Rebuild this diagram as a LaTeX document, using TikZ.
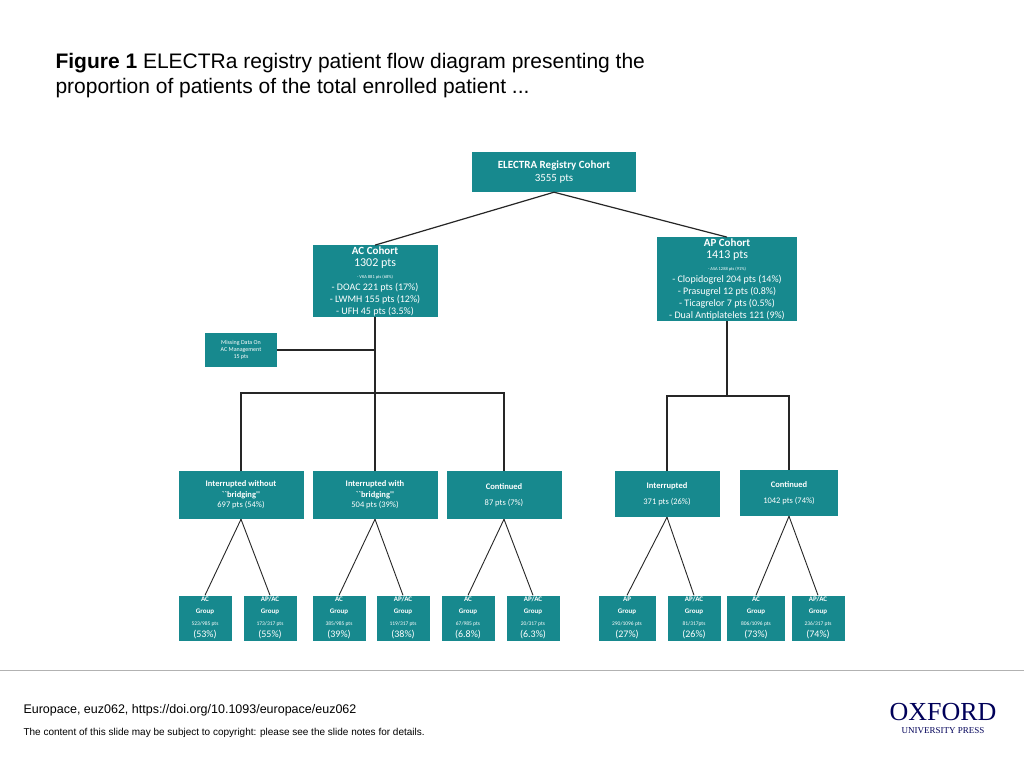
\documentclass[tikz,border=0pt]{standalone}
\usepackage{fontspec}
\setmainfont{Liberation Sans}
\newfontfamily\boxf{Carlito}
\newfontfamily\oxf{Liberation Serif}
\definecolor{teal1}{HTML}{17898E}
\newcommand\fsA{\fontsize{7}{8.5}\selectfont}
\newcommand\fsB{\fontsize{5.5}{7}\selectfont}
\begin{document}
\begin{tikzpicture}[x=1pt,y=-1pt,
 bx/.style={fill=teal1,text=white,align=center,inner sep=1pt,font=\boxf},
 ln/.style={draw=black!85,line width=1.2pt}]
\useasboundingbox (0,0) rectangle (1024,768);
\fill[white] (0,0) rectangle (1024,768);
\node[anchor=west,font=\fontsize{21}{25}\selectfont,align=left] (t) at (52,76) {\textbf{Figure 1} ELECTRa registry patient flow diagram presenting the\\proportion of patients of the total enrolled patient ...};
% level 0
\node[bx,minimum width=164,minimum height=40,font=\boxf\fontsize{11}{13}\selectfont] (e) at (554,172) {\textbf{ELECTRA Registry Cohort}\\3555 pts};
\node[bx,minimum width=125,minimum height=64] (ac) at (375,281) {\fontsize{11}{12}\selectfont\textbf{AC Cohort}\\\fontsize{12}{13}\selectfont 1302 pts\\\fontsize{4.5}{5.5}\selectfont - VKA 881 pts (68\%)\\- DOAC 221 pts (17\%)\\- LWMH 155 pts (12\%)\\- UFH 45 pts (3.5\%)};
\node[bx,minimum width=140,minimum height=72] (ap) at (727,279) {\fontsize{11}{12}\selectfont\textbf{AP Cohort}\\\fontsize{12}{13}\selectfont 1413 pts\\\fontsize{4.5}{5.5}\selectfont - ASA 1288 pts (91\%)\\- Clopidogrel 204 pts (14\%)\\- Prasugrel 12 pts (0.8\%)\\- Ticagrelor 7 pts (0.5\%)\\- Dual Antiplatelets 121 (9\%)};
\node[bx,minimum width=72,minimum height=34,font=\boxf\fontsize{6}{7}\selectfont] (m) at (241,350) {Missing Data On\\AC Management\\15 pts};
% level 2
\tikzset{md/.style={bx,minimum height=48,font=\boxf\fontsize{8.5}{10.5}\selectfont}}
\node[md,minimum width=125] (i1) at (241,495) {\textbf{Interrupted without}\\\textbf{``bridging''}\\697 pts (54\%)};
\node[md,minimum width=125] (i2) at (375,495) {\textbf{Interrupted with}\\\textbf{``bridging''}\\504 pts (39\%)};
\node[md,minimum width=115] (c1) at (504,495) {\textbf{Continued}\\[6pt]87 pts (7\%)};
\node[md,minimum width=105,minimum height=46] (i3) at (667,494) {\textbf{Interrupted}\\[6pt]371 pts (26\%)};
\node[md,minimum width=98,minimum height=46] (c2) at (789,493) {\textbf{Continued}\\[6pt]1042 pts (74\%)};
% level 3
\tikzset{lf/.style={bx,minimum width=53,minimum height=45,font=\boxf}}
\node[lf] (g1) at (205,618) {\fsA\textbf{AC}\\\fsA\textbf{Group}\\\fsB 523/985 pts\\(53\%)};
\node[lf] (g2) at (270,618) {\fsA\textbf{AP/AC}\\\fsA\textbf{Group}\\\fsB 173/317 pts\\(55\%)};
\node[lf] (g3) at (339,618) {\fsA\textbf{AC}\\\fsA\textbf{Group}\\\fsB 385/985 pts\\(39\%)};
\node[lf] (g4) at (403,618) {\fsA\textbf{AP/AC}\\\fsA\textbf{Group}\\\fsB 119/317 pts\\(38\%)};
\node[lf] (g5) at (468,618) {\fsA\textbf{AC}\\\fsA\textbf{Group}\\\fsB 67/985 pts\\(6.8\%)};
\node[lf] (g6) at (533,618) {\fsA\textbf{AP/AC}\\\fsA\textbf{Group}\\\fsB 20/317 pts\\(6.3\%)};
\node[lf,minimum width=57] (g7) at (627,618) {\fsA\textbf{AP}\\\fsA\textbf{Group}\\\fsB 290/1096 pts\\(27\%)};
\node[lf] (g8) at (694,618) {\fsA\textbf{AP/AC}\\\fsA\textbf{Group}\\\fsB 81/317pts\\(26\%)};
\node[lf,minimum width=58] (g9) at (756,618) {\fsA\textbf{AC}\\\fsA\textbf{Group}\\\fsB 806/1096 pts\\(73\%)};
\node[lf] (g10) at (818,618) {\fsA\textbf{AP/AC}\\\fsA\textbf{Group}\\\fsB 236/317 pts\\(74\%)};
% connectors
\draw[ln] (e.south) -- (ac.north);
\draw[ln] (e.south) -- (ap.north);
\coordinate (acb) at (375,393);
\coordinate (apb) at (727,396);
\draw[ln] (ac.south) -- (acb);
\draw[ln] (m.east) -- (m.east -| ac.south);
\draw[ln] (i1.north) |- (acb) -| (c1.north);
\draw[ln] (acb) -- (i2.north);
\draw[ln] (ap.south) -- (apb);
\draw[ln] (i3.north) |- (apb) -| (c2.north);
\foreach \p/\a/\b in {i1/g1/g2,i2/g3/g4,c1/g5/g6,i3/g7/g8,c2/g9/g10}{
 \draw[ln,line width=0.9pt] (\p.south) -- (\a.north);
 \draw[ln,line width=0.9pt] (\p.south) -- (\b.north);}
% footer
\draw[black!30,line width=0.8pt] (0,670) -- (1024,670);
\node[anchor=west,font=\fontsize{12.5}{15}\selectfont] (f1) at (20,710) {Europace, euz062, https://doi.org/10.1093/europace/euz062};
\node[anchor=west,font=\fontsize{10}{12}\selectfont] (f2) at (20,733) {The content of this slide may be subject to copyright: please see the slide notes for details.};
\node[font=\oxf\fontsize{26}{28}\selectfont,text=blue!35!black] (ox) at (943,712) {OXFORD};
\node[font=\oxf\fontsize{9}{10}\selectfont,text=blue!35!black] (up) at (943,731) {UNIVERSITY PRESS};
\end{tikzpicture}
\end{document}
